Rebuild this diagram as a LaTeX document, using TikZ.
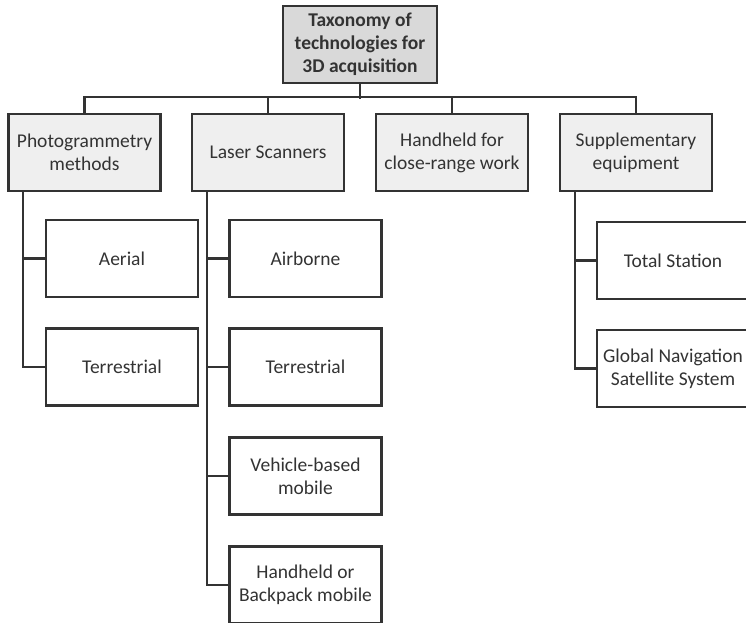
\documentclass[tikz,border=0pt]{standalone}
\usepackage{fontspec}
\setmainfont{Carlito}
\usepackage{tikz}
\usetikzlibrary{positioning,calc}
\usepackage{xcolor}
\definecolor{ink}{HTML}{333333}
\definecolor{rootgray}{HTML}{D9D9D9}
\definecolor{catgray}{HTML}{EFEFEF}
\tikzset{
  leaf/.style={rectangle,draw=ink,fill=white,text=ink,line width=2.2pt,
    minimum width=152pt,minimum height=77pt,inner sep=2pt,align=center,
    font=\fontsize{19.5}{23}\selectfont},
  catbox/.style={leaf,fill=catgray},
  rootbox/.style={leaf,fill=rootgray,minimum width=154pt,
    font=\fontsize{19.5}{23}\selectfont\bfseries},
  tline/.style={draw=ink,line width=2.2pt},
}

\begin{document}
\begin{tikzpicture}[x=1pt,y=-1pt]
  \clip (0,0) rectangle (746,622);
  \fill[white] (0,0) rectangle (746,622);
  % root and categories
  \node[rootbox] (root) at (360,44.5) {Taxonomy of\\technologies for\\3D acquisition};
  \node[catbox] (photo) at (84.5,152.5) {Photogrammetry\\methods};
  \node[catbox] (laser) at (268,152.5) {Laser Scanners};
  \node[catbox] (hand) at (452,152.5) {Handheld for\\close-range work};
  \node[catbox] (supp) at (636,152.5) {Supplementary\\equipment};
  % leaves
  \node[leaf] (aerial) at (122,258.5) {Aerial};
  \node[leaf] (pterr) at (122,367) {Terrestrial};
  \node[leaf] (airb) at (305.5,258.5) {Airborne};
  \node[leaf] (lterr) at (305.5,367) {Terrestrial};
  \node[leaf] (vehic) at (305.5,476) {Vehicle-based\\mobile};
  \node[leaf] (back) at (305.5,585) {Handheld or\\Backpack mobile};
  \node[leaf] (total) at (673,260.5) {Total Station};
  \node[leaf] (gnss) at (673,368.5) {Global Navigation\\Satellite System};
  % bus
  \draw[tline] (photo.north) -- ++(0,-16) -| (supp.north);
  \draw[tline] (root.south) -- ++(0,15);
  \draw[tline] (laser.north) -- ++(0,-16);
  \draw[tline] (hand.north) -- ++(0,-16);
  % branches
  \draw[tline] ([xshift=-61.5pt]photo.south) |- (aerial.west);
  \draw[tline] ([xshift=-61.5pt]photo.south) |- (pterr.west);
  \draw[tline] ([xshift=-61pt]laser.south) |- (airb.west);
  \draw[tline] ([xshift=-61pt]laser.south) |- (lterr.west);
  \draw[tline] ([xshift=-61pt]laser.south) |- (vehic.west);
  \draw[tline] ([xshift=-61pt]laser.south) |- (back.west);
  \draw[tline] ([xshift=-61pt]supp.south) |- (total.west);
  \draw[tline] ([xshift=-61pt]supp.south) |- (gnss.west);
\end{tikzpicture}
\end{document}
